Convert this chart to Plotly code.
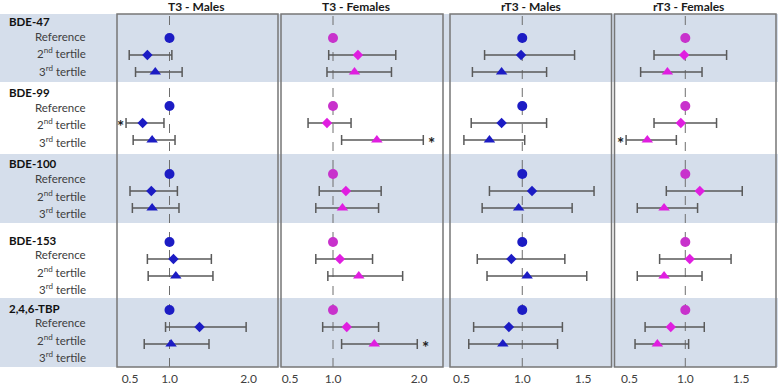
import plotly.graph_objects as go

# ---------------- data ----------------
chemicals = ["BDE-47", "BDE-99", "BDE-100", "BDE-153", "2,4,6-TBP"]
row_labels = ["Reference", "2<sup>nd</sup> tertile", "3<sup>rd</sup> tertile"]
panel_titles = ["T3 - Males", "T3 - Females", "rT3 - Males", "rT3 - Females"]
tick_values = [[0.5, 1.0, 2.0], [0.5, 1.0, 2.0], [0.5, 1.0, 1.5], [0.5, 1.0, 1.5]]
tick_labels = [["0.5", "1.0", "2.0"], ["0.5", "1.0", "2.0"], ["0.5", "1.0", "1.5"], ["0.5", "1.0", "1.5"]]

reference_value = [1.0, 1.0, 1.0, 1.0, 1.0]

# per chemical: [2nd tertile, 3rd tertile]
t3_males_est = [[0.72, 0.82], [0.66, 0.78], [0.77, 0.78], [1.05, 1.08], [1.38, 1.02]]
t3_males_lo = [[0.49, 0.57], [0.45, 0.54], [0.50, 0.53], [0.72, 0.73], [0.95, 0.68]]
t3_males_hi = [[1.03, 1.16], [0.93, 1.07], [1.10, 1.12], [1.53, 1.55], [1.97, 1.50]]

t3_females_est = [[1.29, 1.25], [0.93, 1.51], [1.15, 1.11], [1.08, 1.30], [1.16, 1.48]]
t3_females_lo = [[0.95, 0.93], [0.71, 1.10], [0.84, 0.80], [0.80, 0.94], [0.88, 1.10]]
t3_females_hi = [[1.73, 1.68], [1.21, 2.05], [1.56, 1.53], [1.46, 1.81], [1.53, 1.98]]

rt3_males_est = [[0.99, 0.83], [0.83, 0.73], [1.08, 0.97], [0.91, 1.04], [0.89, 0.84]]
rt3_males_lo = [[0.69, 0.59], [0.58, 0.52], [0.73, 0.67], [0.63, 0.71], [0.60, 0.56]]
rt3_males_hi = [[1.43, 1.20], [1.20, 1.02], [1.59, 1.41], [1.35, 1.53], [1.33, 1.29]]

rt3_females_est = [[0.99, 0.84], [0.96, 0.66], [1.13, 0.81], [1.04, 0.81], [0.87, 0.75]]
rt3_females_lo = [[0.72, 0.60], [0.72, 0.47], [0.83, 0.57], [0.77, 0.57], [0.64, 0.55]]
rt3_females_hi = [[1.37, 1.15], [1.28, 0.92], [1.51, 1.11], [1.41, 1.15], [1.17, 1.03]]

# significant results: (panel, chemical, tertile 1=2nd/2=3rd, which end)
significant = [(0, 1, 1, "lo"), (1, 1, 2, "hi"), (3, 1, 2, "lo"), (1, 4, 2, "hi")]

# ---------------- styling / layout ----------------
W, H = 778, 385
TOP, BOTTOM = 14, 367          # plot area in pixels
Y0_PX, ROW_PX = 38, 17         # pixel of row index 0 and pixel per row


def py(px):
    return (BOTTOM - px) / (BOTTOM - TOP)


def pxx(px):
    return px / W


panel_px = [(117, 278), (281, 443), (450, 611.5), (614.5, 776)]
panel_ranges = [[0.3354, 2.3734], [0.3953, 2.2791], [0.4057, 1.7336], [0.366, 1.8125]]
title_px = [196, 356, 531, 688]

male_col = "#1C1CC4"
fem_col = "#E01EE0"
fem_ref_col = "#C832CC"
panel_colors = [(male_col, male_col), (fem_ref_col, fem_col), (male_col, male_col), (fem_ref_col, fem_col)]

est_all = [t3_males_est, t3_females_est, rt3_males_est, rt3_females_est]
lo_all = [t3_males_lo, t3_females_lo, rt3_males_lo, rt3_females_lo]
hi_all = [t3_males_hi, t3_females_hi, rt3_males_hi, rt3_females_hi]

band_px = [(TOP, 82), (82, 154), (154, 223), (223, 298), (298, BOTTOM)]
band_col = "#D5DEEB"
font_family = "Lato, 'Open Sans', sans-serif"

fig = go.Figure()

symbols = ["circle", "diamond", "triangle-up"]
sizes = [10, 8, 10]

for p in range(4):
    xa = "x" if p == 0 else f"x{p+1}"
    ref_c, c = panel_colors[p]
    ys_ref = [4 * g for g in range(len(chemicals))]
    fig.add_trace(go.Scatter(
        x=reference_value, y=ys_ref, xaxis=xa, yaxis="y", mode="markers",
        marker=dict(symbol="circle", size=sizes[0], color=ref_c),
        showlegend=False, hoverinfo="skip"))
    for t in range(2):
        est = [est_all[p][g][t] for g in range(len(chemicals))]
        lo = [lo_all[p][g][t] for g in range(len(chemicals))]
        hi = [hi_all[p][g][t] for g in range(len(chemicals))]
        ys = [4 * g + t + 1 for g in range(len(chemicals))]
        fig.add_trace(go.Scatter(
            x=est, y=ys, xaxis=xa, yaxis="y", mode="markers",
            marker=dict(symbol=symbols[t + 1], size=sizes[t + 1], color=c),
            error_x=dict(type="data", symmetric=False,
                         array=[h - e for h, e in zip(hi, est)],
                         arrayminus=[e - l for e, l in zip(est, lo)],
                         color="#5A5A5A", thickness=1.5, width=5),
            showlegend=False, hoverinfo="skip"))

shapes = []
for i, (a, b) in enumerate(band_px):
    if i % 2 == 0:
        shapes.append(dict(type="rect", xref="paper", yref="paper", x0=0, x1=1,
                           y0=py(b), y1=py(a), fillcolor=band_col, line=dict(width=0),
                           layer="below"))
for p in range(4):
    xa = "x" if p == 0 else f"x{p+1}"
    shapes.append(dict(type="line", xref=xa, yref="paper", x0=1, x1=1, y0=0, y1=1,
                       line=dict(color="#6E6E6E", width=1, dash="dash"), layer="below"))
    a, b = panel_px[p]
    shapes.append(dict(type="rect", xref="paper", yref="paper", x0=pxx(a), x1=pxx(b),
                       y0=0, y1=1, line=dict(color="#777777", width=1.5)))

annotations = []
for p in range(4):
    annotations.append(dict(text="<b>" + panel_titles[p] + "</b>", xref="paper", yref="paper",
                            x=pxx(title_px[p]), y=py(6), xanchor="center", yanchor="middle",
                            showarrow=False, font=dict(family=font_family, size=12, color="#1a1a1a")))

head_px = [22, 93, 164, 240, 308]
sub_off = [14, 31, 48]
for g, name in enumerate(chemicals):
    annotations.append(dict(text="<b>" + name + "</b>", xref="paper", yref="paper",
                            x=pxx(7), y=py(head_px[g]), xanchor="left", yanchor="middle",
                            showarrow=False, font=dict(family=font_family, size=11.5, color="#111111")))
    for k, lab in enumerate(row_labels):
        annotations.append(dict(text=lab, xref="paper", yref="paper",
                                x=pxx(88), y=py(head_px[g] + sub_off[k]), xanchor="right",
                                yanchor="middle", showarrow=False,
                                font=dict(family=font_family, size=11.5, color="#404040")))

for (p, g, t, end) in significant:
    xa = "x" if p == 0 else f"x{p+1}"
    xv = lo_all[p][g][t - 1] if end == "lo" else hi_all[p][g][t - 1]
    annotations.append(dict(text="<b>*</b>", xref=xa, yref="y", x=xv, y=4 * g + t,
                            xanchor="center", yanchor="middle", showarrow=False,
                            xshift=-6 if end == "lo" else 8, yshift=-3,
                            font=dict(family=font_family, size=17, color="#222222")))

layout = dict(
    width=W, height=H,
    margin=dict(l=0, r=0, t=TOP, b=H - BOTTOM),
    paper_bgcolor="white", plot_bgcolor="rgba(0,0,0,0)",
    shapes=shapes, annotations=annotations, showlegend=False,
    yaxis=dict(range=[(BOTTOM - Y0_PX) / ROW_PX, (TOP - Y0_PX) / ROW_PX],
               visible=False, showgrid=False, zeroline=False, fixedrange=True),
)
for p in range(4):
    key = "xaxis" if p == 0 else f"xaxis{p+1}"
    a, b = panel_px[p]
    layout[key] = dict(domain=[pxx(a), pxx(b)], range=panel_ranges[p], anchor="y",
                       tickvals=tick_values[p], ticktext=tick_labels[p],
                       showgrid=False, zeroline=False, showline=False, ticks="",
                       ticklabelstandoff=3, fixedrange=True,
                       tickfont=dict(family=font_family, size=12, color="#404040"))
fig.update_layout(**layout)

fig.write_html("out.html", config={"displayModeBar": False},
               post_script="document.body.style.margin='0';")
